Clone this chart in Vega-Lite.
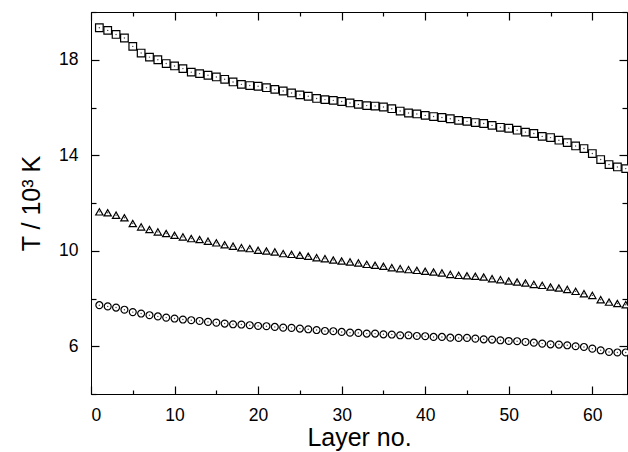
{
  "$schema": "https://vega.github.io/schema/vega-lite/v6.json",
  "width": 536,
  "height": 382,
  "autosize": {"type": "none"},
  "padding": {"left": 91, "top": 12, "right": 1, "bottom": 58},
  "background": "white",
  "config": {
    "view": {"stroke": "black", "strokeWidth": 1},
    "font": "Liberation Sans",
    "axis": {
      "grid": false,
      "domainColor": "black",
      "domainWidth": 1,
      "tickColor": "black",
      "tickWidth": 1.2,
      "labelColor": "black",
      "titleColor": "black",
      "labelFont": "Liberation Sans",
      "titleFont": "Liberation Sans",
      "titleFontWeight": "normal",
      "labelFontSize": 17.5,
      "titleFontSize": 25
    }
  },
  "data": {
    "values": [
      {"series":"sq","layer":1,"T":19.34},{"series":"sq","layer":2,"T":19.23},{"series":"sq","layer":3,"T":19.06},{"series":"sq","layer":4,"T":18.91},
      {"series":"sq","layer":5,"T":18.56},{"series":"sq","layer":6,"T":18.28},{"series":"sq","layer":7,"T":18.11},{"series":"sq","layer":8,"T":18.0},
      {"series":"sq","layer":9,"T":17.84},{"series":"sq","layer":10,"T":17.74},{"series":"sq","layer":11,"T":17.63},{"series":"sq","layer":12,"T":17.48},
      {"series":"sq","layer":13,"T":17.42},{"series":"sq","layer":14,"T":17.35},{"series":"sq","layer":15,"T":17.28},{"series":"sq","layer":16,"T":17.18},
      {"series":"sq","layer":17,"T":17.07},{"series":"sq","layer":18,"T":16.97},{"series":"sq","layer":19,"T":16.92},{"series":"sq","layer":20,"T":16.89},
      {"series":"sq","layer":21,"T":16.83},{"series":"sq","layer":22,"T":16.76},{"series":"sq","layer":23,"T":16.69},{"series":"sq","layer":24,"T":16.61},
      {"series":"sq","layer":25,"T":16.53},{"series":"sq","layer":26,"T":16.47},{"series":"sq","layer":27,"T":16.38},{"series":"sq","layer":28,"T":16.33},
      {"series":"sq","layer":29,"T":16.3},{"series":"sq","layer":30,"T":16.25},{"series":"sq","layer":31,"T":16.19},{"series":"sq","layer":32,"T":16.13},
      {"series":"sq","layer":33,"T":16.08},{"series":"sq","layer":34,"T":16.06},{"series":"sq","layer":35,"T":16.02},{"series":"sq","layer":36,"T":15.95},
      {"series":"sq","layer":37,"T":15.85},{"series":"sq","layer":38,"T":15.77},{"series":"sq","layer":39,"T":15.73},{"series":"sq","layer":40,"T":15.67},
      {"series":"sq","layer":41,"T":15.62},{"series":"sq","layer":42,"T":15.58},{"series":"sq","layer":43,"T":15.53},{"series":"sq","layer":44,"T":15.46},
      {"series":"sq","layer":45,"T":15.42},{"series":"sq","layer":46,"T":15.37},{"series":"sq","layer":47,"T":15.33},{"series":"sq","layer":48,"T":15.25},
      {"series":"sq","layer":49,"T":15.17},{"series":"sq","layer":50,"T":15.13},{"series":"sq","layer":51,"T":15.05},{"series":"sq","layer":52,"T":14.97},
      {"series":"sq","layer":53,"T":14.91},{"series":"sq","layer":54,"T":14.79},{"series":"sq","layer":55,"T":14.74},{"series":"sq","layer":56,"T":14.63},
      {"series":"sq","layer":57,"T":14.53},{"series":"sq","layer":58,"T":14.39},{"series":"sq","layer":59,"T":14.28},{"series":"sq","layer":60,"T":14.07},
      {"series":"sq","layer":61,"T":13.82},{"series":"sq","layer":62,"T":13.61},{"series":"sq","layer":63,"T":13.51},{"series":"sq","layer":64,"T":13.44},
      {"series":"tri","layer":1,"T":11.63},{"series":"tri","layer":2,"T":11.59},{"series":"tri","layer":3,"T":11.49},{"series":"tri","layer":4,"T":11.38},
      {"series":"tri","layer":5,"T":11.14},{"series":"tri","layer":6,"T":11.0},{"series":"tri","layer":7,"T":10.89},{"series":"tri","layer":8,"T":10.79},
      {"series":"tri","layer":9,"T":10.72},{"series":"tri","layer":10,"T":10.65},{"series":"tri","layer":11,"T":10.58},{"series":"tri","layer":12,"T":10.51},
      {"series":"tri","layer":13,"T":10.47},{"series":"tri","layer":14,"T":10.4},{"series":"tri","layer":15,"T":10.33},{"series":"tri","layer":16,"T":10.25},
      {"series":"tri","layer":17,"T":10.19},{"series":"tri","layer":18,"T":10.13},{"series":"tri","layer":19,"T":10.09},{"series":"tri","layer":20,"T":10.02},
      {"series":"tri","layer":21,"T":9.99},{"series":"tri","layer":22,"T":9.95},{"series":"tri","layer":23,"T":9.88},{"series":"tri","layer":24,"T":9.85},
      {"series":"tri","layer":25,"T":9.81},{"series":"tri","layer":26,"T":9.77},{"series":"tri","layer":27,"T":9.71},{"series":"tri","layer":28,"T":9.67},
      {"series":"tri","layer":29,"T":9.61},{"series":"tri","layer":30,"T":9.57},{"series":"tri","layer":31,"T":9.53},{"series":"tri","layer":32,"T":9.49},
      {"series":"tri","layer":33,"T":9.43},{"series":"tri","layer":34,"T":9.39},{"series":"tri","layer":35,"T":9.35},{"series":"tri","layer":36,"T":9.29},
      {"series":"tri","layer":37,"T":9.25},{"series":"tri","layer":38,"T":9.21},{"series":"tri","layer":39,"T":9.18},{"series":"tri","layer":40,"T":9.14},
      {"series":"tri","layer":41,"T":9.11},{"series":"tri","layer":42,"T":9.07},{"series":"tri","layer":43,"T":9.01},{"series":"tri","layer":44,"T":8.97},
      {"series":"tri","layer":45,"T":8.95},{"series":"tri","layer":46,"T":8.93},{"series":"tri","layer":47,"T":8.9},{"series":"tri","layer":48,"T":8.83},
      {"series":"tri","layer":49,"T":8.79},{"series":"tri","layer":50,"T":8.73},{"series":"tri","layer":51,"T":8.69},{"series":"tri","layer":52,"T":8.65},
      {"series":"tri","layer":53,"T":8.59},{"series":"tri","layer":54,"T":8.55},{"series":"tri","layer":55,"T":8.48},{"series":"tri","layer":56,"T":8.44},
      {"series":"tri","layer":57,"T":8.38},{"series":"tri","layer":58,"T":8.3},{"series":"tri","layer":59,"T":8.2},{"series":"tri","layer":60,"T":8.13},
      {"series":"tri","layer":61,"T":7.95},{"series":"tri","layer":62,"T":7.85},{"series":"tri","layer":63,"T":7.79},{"series":"tri","layer":64,"T":7.74},
      {"series":"cir","layer":1,"T":7.72},{"series":"cir","layer":2,"T":7.67},{"series":"cir","layer":3,"T":7.62},{"series":"cir","layer":4,"T":7.53},
      {"series":"cir","layer":5,"T":7.43},{"series":"cir","layer":6,"T":7.37},{"series":"cir","layer":7,"T":7.3},{"series":"cir","layer":8,"T":7.25},
      {"series":"cir","layer":9,"T":7.2},{"series":"cir","layer":10,"T":7.16},{"series":"cir","layer":11,"T":7.12},{"series":"cir","layer":12,"T":7.09},
      {"series":"cir","layer":13,"T":7.06},{"series":"cir","layer":14,"T":7.02},{"series":"cir","layer":15,"T":6.99},{"series":"cir","layer":16,"T":6.95},
      {"series":"cir","layer":17,"T":6.92},{"series":"cir","layer":18,"T":6.91},{"series":"cir","layer":19,"T":6.88},{"series":"cir","layer":20,"T":6.85},
      {"series":"cir","layer":21,"T":6.84},{"series":"cir","layer":22,"T":6.81},{"series":"cir","layer":23,"T":6.78},{"series":"cir","layer":24,"T":6.77},
      {"series":"cir","layer":25,"T":6.74},{"series":"cir","layer":26,"T":6.71},{"series":"cir","layer":27,"T":6.68},{"series":"cir","layer":28,"T":6.64},
      {"series":"cir","layer":29,"T":6.63},{"series":"cir","layer":30,"T":6.6},{"series":"cir","layer":31,"T":6.57},{"series":"cir","layer":32,"T":6.56},
      {"series":"cir","layer":33,"T":6.53},{"series":"cir","layer":34,"T":6.53},{"series":"cir","layer":35,"T":6.5},{"series":"cir","layer":36,"T":6.49},
      {"series":"cir","layer":37,"T":6.46},{"series":"cir","layer":38,"T":6.46},{"series":"cir","layer":39,"T":6.43},{"series":"cir","layer":40,"T":6.42},
      {"series":"cir","layer":41,"T":6.39},{"series":"cir","layer":42,"T":6.39},{"series":"cir","layer":43,"T":6.36},{"series":"cir","layer":44,"T":6.35},
      {"series":"cir","layer":45,"T":6.35},{"series":"cir","layer":46,"T":6.32},{"series":"cir","layer":47,"T":6.29},{"series":"cir","layer":48,"T":6.28},
      {"series":"cir","layer":49,"T":6.25},{"series":"cir","layer":50,"T":6.22},{"series":"cir","layer":51,"T":6.21},{"series":"cir","layer":52,"T":6.18},
      {"series":"cir","layer":53,"T":6.15},{"series":"cir","layer":54,"T":6.11},{"series":"cir","layer":55,"T":6.08},{"series":"cir","layer":56,"T":6.07},
      {"series":"cir","layer":57,"T":6.04},{"series":"cir","layer":58,"T":6.0},{"series":"cir","layer":59,"T":5.97},{"series":"cir","layer":60,"T":5.9},
      {"series":"cir","layer":61,"T":5.83},{"series":"cir","layer":62,"T":5.76},{"series":"cir","layer":63,"T":5.74},{"series":"cir","layer":64,"T":5.74}
    ]
  },
  "layer": [
    {
      "mark": {"type": "point", "filled": false, "fill": "white", "fillOpacity": 1, "stroke": "black", "strokeWidth": 1.2, "opacity": 1},
      "encoding": {
        "x": {
          "field": "layer", "type": "quantitative",
          "scale": {"domain": [0, 64.15], "nice": false, "zero": false},
          "axis": {
            "orient": "bottom",
            "title": "Layer no.",
            "values": [0,5,10,15,20,25,30,35,40,45,50,55,60],
            "labelExpr": "datum.value % 10 === 0 ? datum.label : ''",
            "tickSize": {"condition": {"test": "datum.value % 10 === 0", "value": -8}, "value": -4},
            "labelPadding": 20,
            "titlePadding": 2
          }
        },
        "y": {
          "field": "T", "type": "quantitative",
          "scale": {"domain": [4, 20], "nice": false, "zero": false},
          "axis": {
            "orient": "left",
            "title": "T / 10³ K",
            "values": [4,6,8,10,12,14,16,18,20],
            "labelExpr": "(datum.value - 2) % 4 === 0 ? datum.label : ''",
            "tickSize": {"condition": {"test": "(datum.value - 2) % 4 === 0", "value": -8}, "value": -5},
            "labelPadding": 21,
            "titlePadding": 14
          }
        },
        "shape": {
          "field": "series", "type": "nominal",
          "scale": {"domain": ["sq", "tri", "cir"], "range": ["square", "triangle-up", "circle"]},
          "legend": null
        },
        "size": {
          "field": "series", "type": "nominal",
          "scale": {"domain": ["sq", "tri", "cir"], "range": [58, 48, 52]},
          "legend": null
        }
      }
    },
    {
      "mark": {"type": "point", "filled": true, "color": "#444444", "size": 2, "opacity": 1},
      "encoding": {
        "x": {
          "field": "layer", "type": "quantitative",
          "axis": {
            "orient": "top", "title": null, "labels": false, "domain": false,
            "values": [0,5,10,15,20,25,30,35,40,45,50,55,60],
            "tickSize": {"condition": {"test": "datum.value % 10 === 0", "value": -8}, "value": -4}
          }
        },
        "y": {
          "field": "T", "type": "quantitative",
          "axis": {
            "orient": "right", "title": null, "labels": false, "domain": false,
            "values": [4,6,8,10,12,14,16,18,20],
            "tickSize": {"condition": {"test": "(datum.value - 2) % 4 === 0", "value": -8}, "value": -5}
          }
        }
      }
    }
  ],
  "resolve": {"axis": {"x": "independent", "y": "independent"}}
}
